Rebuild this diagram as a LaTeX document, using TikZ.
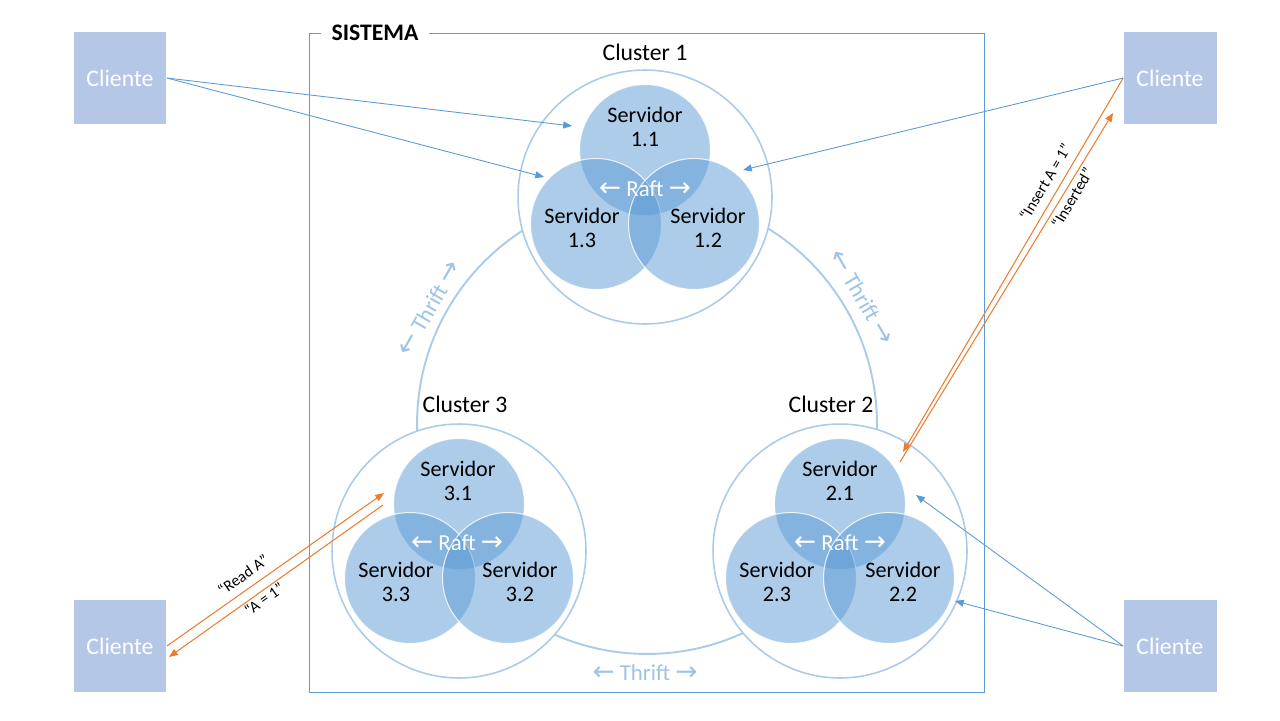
\documentclass[tikz,border=0pt]{standalone}
\usepackage{fontspec}
\setmainfont{Carlito}
\newfontfamily\arrowfont{DejaVu Sans}
\usetikzlibrary{positioning,arrows.meta}
\definecolor{boxblue}{HTML}{5B9BD5}
\definecolor{clientblue}{HTML}{B4C7E7}
\definecolor{ringblue}{HTML}{AACBEA}
\definecolor{thriftblue}{HTML}{9DC3E6}
\definecolor{msgorange}{HTML}{ED7D31}
\newcommand{\larr}{{\arrowfont\fontsize{15}{15}\selectfont\char"2190}}
\newcommand{\rarr}{{\arrowfont\fontsize{15}{15}\selectfont\char"2192}}
\tikzset{
  cliente/.style={fill=clientblue, text=white, minimum width=1.86cm, minimum height=1.84cm, inner sep=0pt, font=\fontsize{13.5}{16}\selectfont},
  cluster/.style={circle, draw=ringblue, line width=0.9pt, fill=white, minimum size=5.08cm, inner sep=0pt},
  servidor/.style={circle, fill=boxblue, fill opacity=0.5, draw=white, draw opacity=0.8, line width=0.6pt, minimum size=2.62cm, inner sep=0pt},
  srvtext/.style={align=center, font=\fontsize{12.6}{13.7}\selectfont},
  rafttext/.style={text=white, font=\fontsize{13}{15}\selectfont},
  thrifttext/.style={text=thriftblue, font=\fontsize{13}{15}\selectfont},
  clustertext/.style={font=\fontsize{13.5}{16}\selectfont},
  request/.style={draw=boxblue, line width=0.5pt, -{Triangle[length=5pt,width=4pt,color=boxblue]}},
  message/.style={draw=msgorange, line width=0.6pt, -{Triangle[length=5pt,width=4pt,color=msgorange]}},
  msgtext/.style={font=\fontsize{9}{11}\selectfont, inner sep=1pt}
}
\begin{document}
\begin{tikzpicture}[x=0.02cm, y=-0.02cm]
    \useasboundingbox (0,0) rectangle (1280,720);
    % sistema
    \node (sistema) at (647,363) [draw=boxblue, line width=0.6pt, minimum width=13.52cm, minimum height=13.2cm] {};
    \node (titulo) at (375,33) [fill=white, inner xsep=6pt, font=\bfseries\fontsize{13.5}{16}\selectfont] {SISTEMA};
    \node (ring) at (647,424) [circle, draw=ringblue, line width=1.1pt, minimum size=9.2cm, inner sep=0pt] {};
    % clusters
    \node[cluster] (c1) at (645,197) {};
    \node[cluster] (c2) at (840,551) {};
    \node[cluster] (c3) at (459,551) {};
    \node[clustertext] (l1) at (645,52) {Cluster 1};
    \node[clustertext] (l2) at (831,404) {Cluster 2};
    \node[clustertext] (l3) at (465,404) {Cluster 3};
    % servidores
    \node[servidor] (s11) at ([shift={(0,-47)}]c1) {};
    \node[servidor] (s13) at ([shift={(-49,27)}]c1) {};
    \node[servidor] (s12) at ([shift={(49,27)}]c1) {};
    \node[servidor] (s21) at ([shift={(0,-47)}]c2) {};
    \node[servidor] (s23) at ([shift={(-49,27)}]c2) {};
    \node[servidor] (s22) at ([shift={(49,27)}]c2) {};
    \node[servidor] (s31) at ([shift={(0,-47)}]c3) {};
    \node[servidor] (s33) at ([shift={(-49,27)}]c3) {};
    \node[servidor] (s32) at ([shift={(49,27)}]c3) {};
    \node[srvtext] (t11) at ([shift={(0,-70)}]c1) {Servidor\\1.1};
    \node[srvtext] (t13) at ([shift={(-63,31)}]c1) {Servidor\\1.3};
    \node[srvtext] (t12) at ([shift={(63,31)}]c1) {Servidor\\1.2};
    \node[srvtext] (t21) at ([shift={(0,-70)}]c2) {Servidor\\2.1};
    \node[srvtext] (t23) at ([shift={(-63,31)}]c2) {Servidor\\2.3};
    \node[srvtext] (t22) at ([shift={(63,31)}]c2) {Servidor\\2.2};
    \node[srvtext] (t31) at ([shift={(-1,-70)}]c3) {Servidor\\3.1};
    \node[srvtext] (t33) at ([shift={(-63,31)}]c3) {Servidor\\3.3};
    \node[srvtext] (t32) at ([shift={(61,31)}]c3) {Servidor\\3.2};
    \node[rafttext] (r1) at ([shift={(0,-8)}]c1) {\larr{} Raft \rarr};
    \node[rafttext] (r2) at ([shift={(0,-8)}]c2) {\larr{} Raft \rarr};
    \node[rafttext] (r3) at ([shift={(-2,-8)}]c3) {\larr{} Raft \rarr};
    % thrift
    \node[thrifttext, rotate=60] (th13) at (429,308) {\larr{} Thrift \rarr};
    \node[thrifttext, rotate=-60] (th12) at (862,297) {\larr{} Thrift \rarr};
    \node[thrifttext] (th32) at (645,673) {\larr{} Thrift \rarr};
    % clientes
    \node[cliente] (cTL) at (120,78) {Cliente};
    \node[cliente] (cTR) at (1170,78) {Cliente};
    \node[cliente] (cBL) at (120,646) {Cliente};
    \node[cliente] (cBR) at (1170,646) {Cliente};
    % pedidos
    \coordinate (a11) at (572,126);
    \coordinate (a13) at (544,177);
    \coordinate (a12) at (743,170);
    \coordinate (a21) at (916,495);
    \coordinate (a22) at (955,601);
    \draw[request] (cTL.east) -- (a11);
    \draw[request] (cTL.east) -- (a13);
    \draw[request] (cTR.west) -- (a12);
    \draw[request] (cBR.west) -- (a21);
    \draw[request] (cBR.west) -- (a22);
    % mensagens
    \coordinate (insA) at (903,452);
    \coordinate (insB0) at (900,462);
    \coordinate (insB1) at (1113,113);
    \coordinate (readA) at (384,493);
    \coordinate (resA0) at (383,505);
    \coordinate (resA1) at (169,657);
    \draw[message] (cTR.west) -- (insA);
    \draw[message] (insB0) -- (insB1);
    \draw[message] (cBL.east) -- (readA);
    \draw[message] (resA0) -- (resA1);
    \node[msgtext, rotate=59.4] (mIns) at (1045,182) {“Insert A = 1”};
    \node[msgtext, rotate=59.4] (mInsd) at (1072,198) {“Inserted”};
    \node[msgtext, rotate=35] (mRead) at (243,575) {“Read A”};
    \node[msgtext, rotate=35] (mRes) at (264,599) {“A = 1”};
\end{tikzpicture}
\end{document}
